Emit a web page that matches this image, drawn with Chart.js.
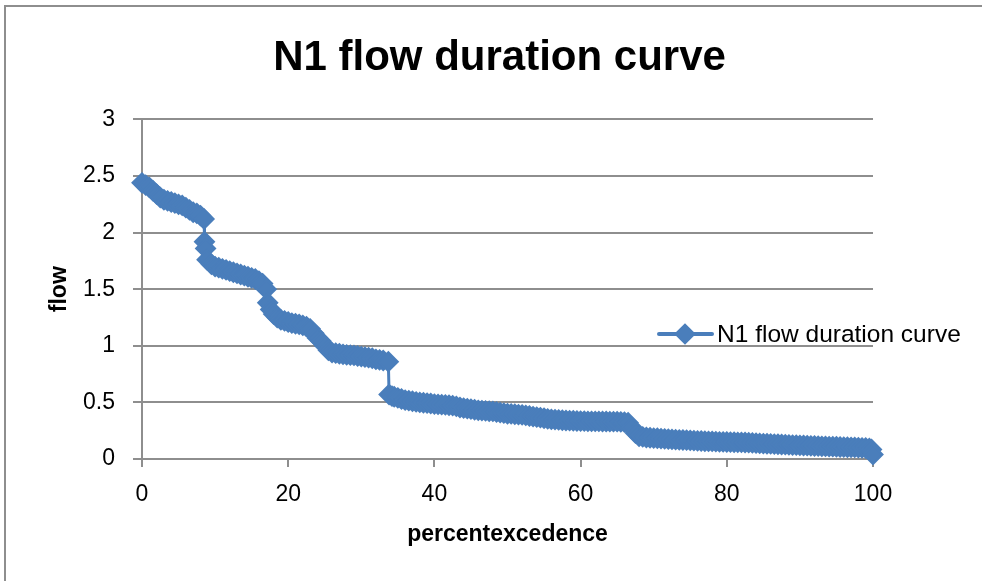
<!DOCTYPE html>
<html>
<head>
<meta charset="utf-8">
<title>N1 flow duration curve</title>
<script src="https://cdn.jsdelivr.net/npm/chart.js@4.4.1/dist/chart.umd.min.js"></script>
<style>
  html, body { margin: 0; padding: 0; background: #fff; }
  canvas { display: block; }
</style>
</head>
<body>
<canvas id="fdcChart" width="982" height="581"></canvas>
<script>
// values
const percent = [
  0, 0.5, 1, 1.5, 2, 2.5, 3, 3.5, 4, 4.5, 5, 5.5, 6, 6.5, 7, 7.5, 8, 8.5,
  8.55, 8.7, 8.9, 9.5, 10, 10.5, 11, 11.5, 12, 12.5, 13, 13.5, 14, 14.5, 15, 15.5, 16, 16.5, 17,
  17.2, 17.6, 18, 18.5, 19, 19.5, 20, 20.5, 21, 21.5, 22, 22.5, 23, 23.5, 24, 24.5, 25, 25.5, 26,
  26.5, 27, 27.5, 28, 28.5, 29, 29.5, 30, 30.5, 31, 31.5, 32, 32.5, 33, 33.7,
  33.8, 34.2, 34.5, 35, 35.5, 36, 36.5, 37, 37.5, 38, 38.5, 39, 39.5, 40, 40.5, 41, 41.5, 42, 42.5,
  43, 43.5, 44, 44.5, 45, 45.5, 46, 46.5, 47, 47.5, 48, 48.5, 49, 49.5, 50, 50.5, 51, 51.5, 52, 52.5,
  53, 53.5, 54, 54.5, 55, 55.5, 56, 56.5, 57, 57.5, 58, 58.5, 59, 59.5, 60, 60.5, 61, 61.5, 62, 62.5,
  63, 63.5, 64, 64.5, 65, 65.5, 66, 66.5, 67, 67.5, 68, 68.5, 69, 69.5, 70, 70.5, 71, 71.5, 72, 72.5,
  73, 73.5, 74, 74.5, 75, 75.5, 76, 76.5, 77, 77.5, 78, 78.5, 79, 79.5, 80, 80.5, 81, 81.5, 82, 82.5,
  83, 83.5, 84, 84.5, 85, 85.5, 86, 86.5, 87, 87.5, 88, 88.5, 89, 89.5, 90, 90.5, 91, 91.5, 92, 92.5,
  93, 93.5, 94, 94.5, 95, 95.5, 96, 96.5, 97, 97.5, 98, 98.5, 99, 99.5, 99.8, 100
];
const flow = [
  2.44, 2.42, 2.40, 2.37, 2.34, 2.31, 2.29, 2.28, 2.27, 2.26, 2.25, 2.24, 2.22, 2.20, 2.18, 2.17, 2.15, 2.12,
  1.92, 1.86, 1.76, 1.72, 1.70, 1.69, 1.68, 1.67, 1.66, 1.65, 1.64, 1.63, 1.62, 1.61, 1.60, 1.59, 1.57, 1.55, 1.50,
  1.38, 1.32, 1.28, 1.25, 1.23, 1.22, 1.21, 1.20, 1.195, 1.19, 1.18, 1.17, 1.15, 1.11, 1.07, 1.04, 1.00, 0.96, 0.94,
  0.935, 0.93, 0.925, 0.92, 0.918, 0.915, 0.91, 0.905, 0.90, 0.895, 0.89, 0.88, 0.875, 0.87, 0.86,
  0.57, 0.555, 0.55, 0.54, 0.53, 0.52, 0.515, 0.51, 0.505, 0.50, 0.497, 0.494, 0.49, 0.485, 0.482, 0.48, 0.478, 0.475, 0.472,
  0.465, 0.455, 0.45, 0.445, 0.44, 0.435, 0.43, 0.428, 0.425, 0.422, 0.42, 0.415, 0.41, 0.405, 0.40, 0.398, 0.395, 0.392, 0.39, 0.385,
  0.38, 0.375, 0.37, 0.365, 0.36, 0.355, 0.35, 0.348, 0.345, 0.342, 0.34, 0.339, 0.338, 0.336, 0.335, 0.334, 0.333, 0.333, 0.332, 0.332,
  0.331, 0.331, 0.330, 0.330, 0.330, 0.328, 0.325, 0.32, 0.28, 0.23, 0.20, 0.195, 0.19, 0.188, 0.185, 0.183, 0.18, 0.178, 0.175, 0.173,
  0.171, 0.169, 0.168, 0.166, 0.164, 0.162, 0.16, 0.159, 0.157, 0.156, 0.155, 0.154, 0.152, 0.151, 0.15, 0.149, 0.148, 0.147, 0.147, 0.146,
  0.144, 0.142, 0.14, 0.138, 0.136, 0.135, 0.133, 0.131, 0.13, 0.128, 0.127, 0.125, 0.123, 0.122, 0.12, 0.119, 0.118, 0.116, 0.115, 0.114,
  0.112, 0.111, 0.11, 0.109, 0.108, 0.106, 0.105, 0.104, 0.103, 0.102, 0.10, 0.099, 0.097, 0.093, 0.085, 0.04
];
const xTicks = [0, 20, 40, 60, 80, 100];
const yTicks = [0, 0.5, 1, 1.5, 2, 2.5, 3];

const seriesName = 'N1 flow duration curve';
const blue = '#4a7ebb';
const gridGrey = '#8e8e8e';
const fontName = "'Liberation Sans', Arial, sans-serif";

// picture frame (top and left edge only, as in the screenshot)
const framePlugin = {
    id: 'frame',
    beforeDraw(chart) {
        const ctx = chart.ctx;
        ctx.save();
        ctx.fillStyle = '#fff';
        ctx.fillRect(0, 0, chart.width, chart.height);
        ctx.strokeStyle = gridGrey;
        ctx.lineWidth = 2;
        ctx.beginPath();
        ctx.moveTo(4, 6);
        ctx.lineTo(chart.width, 6);
        ctx.moveTo(5, 6);
        ctx.lineTo(5, chart.height);
        ctx.stroke();
        ctx.restore();
    }
};

// excel puts the legend on top of the plot area, right of centre
const legendPlugin = {
    id: 'floatLegend',
    afterDraw(chart) {
        const ctx = chart.ctx;
        const ds = chart.data.datasets[0];
        const y = 334;
        ctx.save();
        ctx.strokeStyle = blue;
        ctx.lineWidth = 4;
        ctx.lineCap = 'round';
        ctx.beginPath();
        ctx.moveTo(659, y);
        ctx.lineTo(712, y);
        ctx.stroke();
        Chart.helpers.drawPoint(ctx, {
            pointStyle: 'rectRot', radius: 8, borderWidth: 1, rotation: 0
        }, 685, y);
        ctx.fillStyle = blue;
        ctx.fill();
        ctx.fillStyle = '#000';
        ctx.font = '24.5px ' + fontName;
        ctx.textBaseline = 'middle';
        ctx.textAlign = 'left';
        ctx.fillText(ds.label, 717, y + 1);
        ctx.restore();
    }
};

const ctx = document.getElementById('fdcChart').getContext('2d');
new Chart(ctx, {
    type: 'scatter',
    data: {
        datasets: [{
            label: seriesName,
            data: percent.map((p, i) => ({ x: p, y: flow[i] })),
            showLine: true,
            borderColor: blue,
            backgroundColor: blue,
            borderWidth: 3,
            tension: 0,
            pointStyle: 'rectRot',
            pointRadius: 9.5,
            pointBorderWidth: 2,
            pointBorderColor: blue,
            pointBackgroundColor: blue,
            clip: false
        }]
    },
    options: {
        responsive: false,
        animation: false,
        layout: { padding: { left: 17, right: 0, top: 0, bottom: 0 } },
        plugins: {
            legend: { display: false },
            tooltip: { enabled: false },
            title: {
                display: true,
                text: seriesName,
                color: '#000',
                font: { family: fontName, size: 42, weight: 'bold', lineHeight: 1.2 },
                padding: { top: 33, bottom: 36 }
            }
        },
        scales: {
            x: {
                type: 'linear',
                min: 0,
                max: 100,
                afterBuildTicks: (scale) => { scale.ticks = xTicks.map(v => ({ value: v })); },
                afterFit: (scale) => { scale.height = 122; },
                ticks: {
                    color: '#000',
                    padding: 14,
                    font: { family: fontName, size: 23 }
                },
                grid: {
                    drawOnChartArea: false,
                    drawTicks: true,
                    tickLength: 8,
                    color: gridGrey,
                    lineWidth: 2
                },
                border: { color: gridGrey, width: 2 },
                title: {
                    display: true,
                    text: 'percentexcedence',
                    color: '#000',
                    font: { family: fontName, size: 23, weight: 'bold', lineHeight: 1.2 },
                    padding: { top: 0, bottom: 33 }
                }
            },
            y: {
                min: 0,
                max: 3,
                afterBuildTicks: (scale) => { scale.ticks = yTicks.map(v => ({ value: v })); },
                afterFit: (scale) => { scale.width = 125; },
                ticks: {
                    color: '#000',
                    padding: 18,
                    font: { family: fontName, size: 23 },
                    callback: (v) => String(v)
                },
                grid: {
                    color: gridGrey,
                    lineWidth: 2,
                    tickLength: 9
                },
                border: { color: gridGrey, width: 2 },
                title: {
                    display: true,
                    text: 'flow',
                    color: '#000',
                    font: { family: fontName, size: 23, weight: 'bold', lineHeight: 1.2 },
                    padding: { top: 29, bottom: 0 }
                }
            },
            // empty strip on the right, keeps the plot narrower than the title band
            rightGap: {
                position: 'right',
                display: true,
                grid: { display: false },
                border: { display: false },
                ticks: { display: false },
                afterFit: (scale) => { scale.width = 109; }
            }
        }
    },
    plugins: [framePlugin, legendPlugin]
});
</script>
</body>
</html>
